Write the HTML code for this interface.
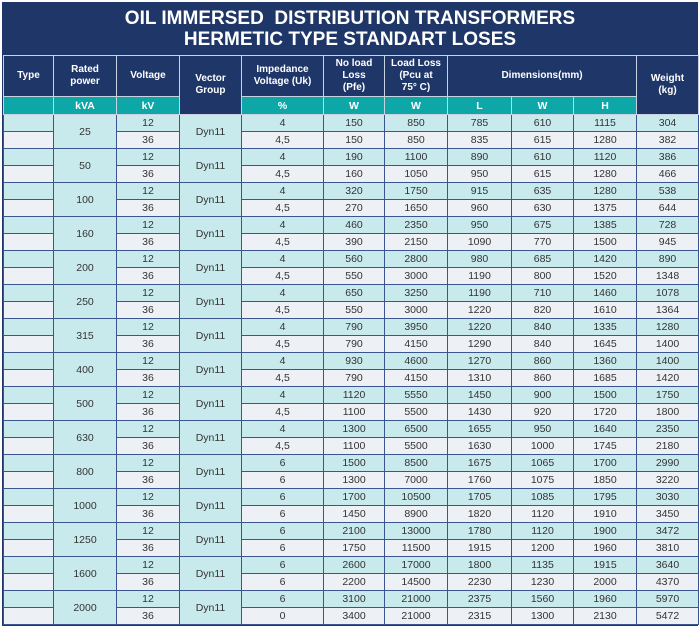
<!DOCTYPE html>
<html><head><meta charset="utf-8"><style>
body{margin:0;width:700px;height:628px;background:#fff;font-family:"Liberation Sans",sans-serif;}
#wrap{position:absolute;left:2px;top:2px;width:696px;height:624px;background:#1f3668;}
#title{position:absolute;left:0;top:0;width:696px;height:52px;color:#fff;font-weight:bold;font-size:19px;line-height:21px;text-align:center;padding-top:6px;box-sizing:border-box;}
table{position:absolute;left:1px;top:53px;border-collapse:collapse;table-layout:fixed;width:695px;}
td{border:1px solid #3a5590;text-align:center;font-size:10.5px;color:#333;padding:0;height:16px;line-height:16px;}
.h td{background:#1f3668;color:#fff;font-weight:bold;font-size:10px;line-height:12px;border-color:#c8d2e0;}
.t td{background:#0ea7a8;color:#fff;font-weight:bold;height:17px;border-color:#c8d2e0;}
.h td.n{background:#1f3668;}
.a td{background:#c9eaed;}
.b td{background:#edf0f4;}
.b td.m,.a td.m{background:#c9eaed;}
</style></head><body>
<div id="wrap">
<div id="title">OIL IMMERSED &nbsp;DISTRIBUTION TRANSFORMERS<br>HERMETIC TYPE STANDART LOSES</div>
<table>
<colgroup><col style="width:50px"><col style="width:63px"><col style="width:63px"><col style="width:62px"><col style="width:82px"><col style="width:61px"><col style="width:63px"><col style="width:64px"><col style="width:62px"><col style="width:63px"><col style="width:62px"></colgroup>
<tr class="h" style="height:41px"><td>Type</td><td>Rated<br>power</td><td>Voltage</td><td rowspan="2" class="n">Vector<br>Group</td><td>Impedance<br>Voltage (Uk)</td><td>No load<br>Loss<br>(Pfe)</td><td>Load Loss<br>(Pcu at<br>75° C)</td><td colspan="3">Dimensions(mm)</td><td rowspan="2" class="n">Weight<br>(kg)</td></tr>
<tr class="t"><td></td><td>kVA</td><td>kV</td><td>%</td><td>W</td><td>W</td><td>L</td><td>W</td><td>H</td></tr>
<tbody id="b"></tbody>
</table>
</div>
<script>
var d=[
[25,[4,150,850,785,610,1115,304],["4,5",150,850,835,615,1280,382]],
[50,[4,190,1100,890,610,1120,386],["4,5",160,1050,950,615,1280,466]],
[100,[4,320,1750,915,635,1280,538],["4,5",270,1650,960,630,1375,644]],
[160,[4,460,2350,950,675,1385,728],["4,5",390,2150,1090,770,1500,945]],
[200,[4,560,2800,980,685,1420,890],["4,5",550,3000,1190,800,1520,1348]],
[250,[4,650,3250,1190,710,1460,1078],["4,5",550,3000,1220,820,1610,1364]],
[315,[4,790,3950,1220,840,1335,1280],["4,5",790,4150,1290,840,1645,1400]],
[400,[4,930,4600,1270,860,1360,1400],["4,5",790,4150,1310,860,1685,1420]],
[500,[4,1120,5550,1450,900,1500,1750],["4,5",1100,5500,1430,920,1720,1800]],
[630,[4,1300,6500,1655,950,1640,2350],["4,5",1100,5500,1630,1000,1745,2180]],
[800,[6,1500,8500,1675,1065,1700,2990],[6,1300,7000,1760,1075,1850,3220]],
[1000,[6,1700,10500,1705,1085,1795,3030],[6,1450,8900,1820,1120,1910,3450]],
[1250,[6,2100,13000,1780,1120,1900,3472],[6,1750,11500,1915,1200,1960,3810]],
[1600,[6,2600,17000,1800,1135,1915,3640],[6,2200,14500,2230,1230,2000,4370]],
[2000,[6,3100,21000,2375,1560,1960,5970],[0,3400,21000,2315,1300,2130,5472]]];
var h="";
d.forEach(function(r){
h+='<tr class="a"><td></td><td rowspan="2" class="m">'+r[0]+'</td><td>12</td><td rowspan="2" class="m">Dyn11</td>'+r[1].map(function(v){return '<td>'+v+'</td>'}).join('')+'</tr>';
h+='<tr class="b"><td></td><td>36</td>'+r[2].map(function(v){return '<td>'+v+'</td>'}).join('')+'</tr>';
});
document.getElementById('b').innerHTML=h;
</script>
</body></html>
